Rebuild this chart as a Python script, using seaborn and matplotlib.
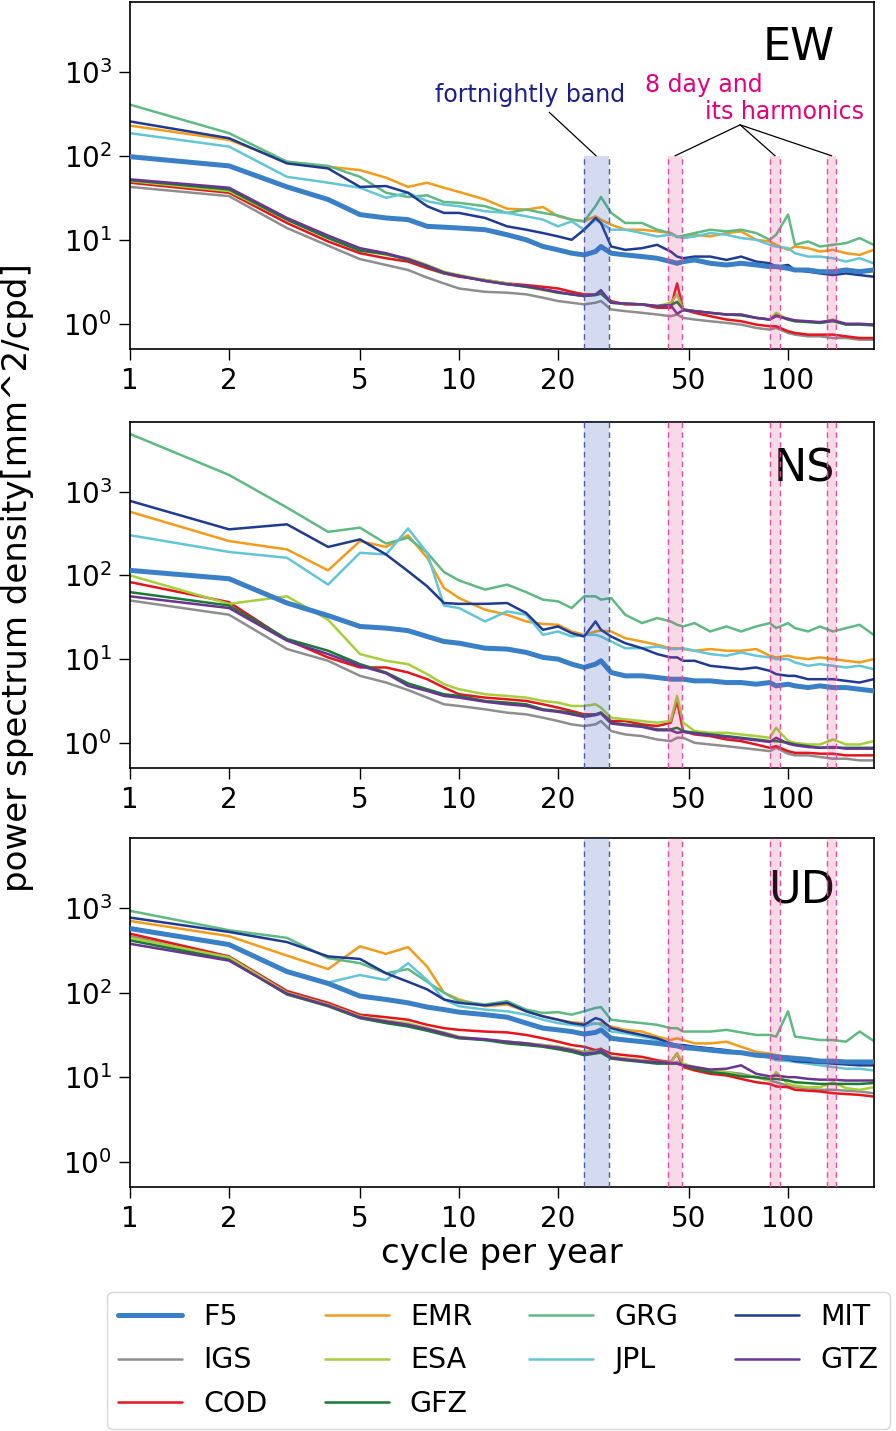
import pandas as pd
import seaborn as sns
import matplotlib.pyplot as plt
from matplotlib.ticker import NullLocator

freq = [1, 2, 3, 4, 5, 6, 7, 8, 9,
        10, 12, 14, 16, 18, 20, 22, 24, 26, 27,
        29, 32, 36, 40, 44, 46, 48, 52, 58, 65,
        72, 80, 88, 92, 100, 105, 115, 125, 137, 150,
        165, 182]

# ---- EW : log10 of power spectrum density [mm^2/cpd] ----
ew_f5 = [1.99, 1.88, 1.63, 1.48, 1.30, 1.26, 1.24, 1.16, 1.15,
         1.14, 1.12, 1.06, 1.00, 0.92, 0.88, 0.84, 0.82, 0.86, 0.92,
         0.84, 0.82, 0.80, 0.78, 0.74, 0.72, 0.74, 0.76, 0.72, 0.70,
         0.72, 0.70, 0.68, 0.68, 0.66, 0.64, 0.64, 0.62, 0.62, 0.64,
         0.62, 0.64]
ew_igs = [1.63, 1.52, 1.14, 0.93, 0.77, 0.70, 0.64, 0.55, 0.48,
          0.42, 0.38, 0.37, 0.35, 0.31, 0.27, 0.25, 0.23, 0.25, 0.27,
          0.17, 0.15, 0.13, 0.11, 0.09, 0.11, 0.07, 0.05, 0.03, 0.01,
          -0.01, -0.05, -0.07, -0.05, -0.11, -0.13, -0.15, -0.15, -0.17, -0.17,
          -0.19, -0.19]
ew_cod = [1.68, 1.56, 1.20, 0.98, 0.84, 0.78, 0.74, 0.66, 0.60,
          0.56, 0.52, 0.48, 0.46, 0.44, 0.42, 0.38, 0.35, 0.35, 0.36,
          0.27, 0.23, 0.23, 0.19, 0.19, 0.48, 0.17, 0.13, 0.09, 0.05,
          0.03, -0.01, -0.03, -0.03, -0.09, -0.11, -0.13, -0.13, -0.13, -0.15,
          -0.17, -0.17]
ew_emr = [2.36, 2.19, 1.93, 1.87, 1.83, 1.74, 1.63, 1.68, 1.62,
          1.57, 1.48, 1.37, 1.36, 1.39, 1.28, 1.24, 1.22, 1.28, 1.24,
          1.18, 1.12, 1.12, 1.10, 1.08, 1.04, 1.03, 1.06, 1.04, 1.08,
          1.10, 1.00, 0.98, 0.94, 0.88, 0.92, 0.90, 0.86, 0.88, 0.84,
          0.82, 0.88]
ew_esa = [1.70, 1.58, 1.24, 1.03, 0.88, 0.82, 0.78, 0.70, 0.62,
          0.58, 0.52, 0.48, 0.44, 0.40, 0.37, 0.35, 0.33, 0.35, 0.37,
          0.25, 0.24, 0.23, 0.21, 0.25, 0.35, 0.17, 0.15, 0.13, 0.11,
          0.11, 0.07, 0.05, 0.13, 0.05, 0.03, 0.03, 0.01, 0.05, -0.01,
          -0.01, -0.01]
ew_gfz = [1.71, 1.60, 1.24, 1.02, 0.87, 0.83, 0.76, 0.68, 0.60,
          0.57, 0.51, 0.47, 0.44, 0.41, 0.37, 0.35, 0.33, 0.34, 0.36,
          0.25, 0.24, 0.23, 0.21, 0.22, 0.26, 0.17, 0.15, 0.13, 0.11,
          0.10, 0.07, 0.05, 0.10, 0.05, 0.03, 0.02, 0.01, 0.03, -0.01,
          -0.01, -0.02]
ew_grg = [2.61, 2.27, 1.93, 1.88, 1.75, 1.56, 1.51, 1.53, 1.45,
          1.44, 1.40, 1.32, 1.36, 1.32, 1.29, 1.24, 1.22, 1.40, 1.51,
          1.32, 1.20, 1.20, 1.12, 1.08, 1.03, 1.05, 1.08, 1.12, 1.10,
          1.12, 1.08, 1.00, 1.06, 1.30, 0.94, 0.98, 0.92, 0.94, 0.96,
          1.02, 0.94]
ew_jpl = [2.27, 2.11, 1.75, 1.68, 1.62, 1.50, 1.56, 1.46, 1.42,
          1.40, 1.34, 1.32, 1.28, 1.24, 1.16, 1.22, 1.12, 1.24, 1.20,
          1.12, 1.12, 1.08, 1.04, 1.06, 1.04, 1.02, 1.04, 1.08, 1.06,
          1.02, 1.00, 0.94, 0.92, 0.90, 0.84, 0.80, 0.80, 0.78, 0.74,
          0.78, 0.72]
ew_mit = [2.41, 2.21, 1.91, 1.85, 1.63, 1.64, 1.56, 1.40, 1.32,
          1.32, 1.26, 1.16, 1.12, 1.08, 1.04, 1.00, 1.12, 1.26, 1.20,
          0.92, 0.88, 0.90, 0.94, 0.86, 0.80, 0.78, 0.80, 0.80, 0.76,
          0.80, 0.74, 0.72, 0.68, 0.70, 0.64, 0.62, 0.60, 0.58, 0.60,
          0.58, 0.56]
ew_gtz = [1.72, 1.62, 1.26, 1.05, 0.90, 0.84, 0.77, 0.69, 0.61,
          0.57, 0.51, 0.47, 0.45, 0.41, 0.38, 0.35, 0.33, 0.35, 0.40,
          0.25, 0.24, 0.23, 0.21, 0.22, 0.12, 0.16, 0.15, 0.13, 0.11,
          0.11, 0.07, 0.05, 0.09, 0.06, 0.04, 0.03, 0.02, 0.04, 0.00,
          0.00, -0.01]

# ---- NS ----
ns_f5 = [2.06, 1.96, 1.67, 1.52, 1.39, 1.37, 1.34, 1.27, 1.21,
         1.19, 1.13, 1.12, 1.08, 1.02, 1.00, 0.94, 0.90, 0.94, 0.98,
         0.84, 0.80, 0.80, 0.78, 0.76, 0.76, 0.76, 0.74, 0.74, 0.72,
         0.72, 0.70, 0.72, 0.68, 0.70, 0.68, 0.66, 0.68, 0.66, 0.66,
         0.64, 0.62]
ns_igs = [1.70, 1.53, 1.12, 0.98, 0.80, 0.72, 0.63, 0.54, 0.46,
          0.44, 0.40, 0.36, 0.34, 0.30, 0.26, 0.22, 0.20, 0.22, 0.26,
          0.14, 0.10, 0.08, 0.04, 0.02, 0.06, 0.06, 0.00, -0.02, -0.04,
          -0.06, -0.08, -0.10, -0.06, -0.13, -0.15, -0.15, -0.17, -0.19, -0.19,
          -0.21, -0.21]
ns_cod = [1.92, 1.68, 1.23, 1.02, 0.90, 0.90, 0.84, 0.76, 0.66,
          0.58, 0.54, 0.52, 0.50, 0.46, 0.42, 0.38, 0.34, 0.34, 0.36,
          0.26, 0.26, 0.22, 0.20, 0.24, 0.50, 0.14, 0.10, 0.08, 0.04,
          0.02, -0.02, -0.06, -0.04, -0.10, -0.12, -0.12, -0.13, -0.13, -0.15,
          -0.15, -0.15]
ns_emr = [2.76, 2.41, 2.31, 2.06, 2.41, 2.34, 2.48, 2.21, 1.85,
          1.73, 1.59, 1.53, 1.45, 1.42, 1.41, 1.33, 1.29, 1.33, 1.34,
          1.33, 1.25, 1.21, 1.17, 1.13, 1.13, 1.12, 1.10, 1.12, 1.10,
          1.10, 1.12, 1.04, 1.02, 1.04, 1.02, 1.00, 1.02, 1.00, 0.98,
          0.96, 1.00]
ns_esa = [2.00, 1.66, 1.75, 1.47, 1.06, 0.98, 0.94, 0.82, 0.70,
          0.64, 0.58, 0.56, 0.54, 0.50, 0.48, 0.44, 0.44, 0.46, 0.42,
          0.30, 0.28, 0.26, 0.24, 0.26, 0.56, 0.24, 0.14, 0.12, 0.12,
          0.10, 0.08, 0.06, 0.18, 0.02, 0.00, -0.02, -0.02, 0.04, -0.02,
          -0.02, 0.02]
ns_gfz = [1.80, 1.64, 1.24, 1.10, 0.94, 0.84, 0.71, 0.64, 0.58,
          0.56, 0.50, 0.48, 0.46, 0.40, 0.38, 0.36, 0.32, 0.34, 0.36,
          0.24, 0.22, 0.20, 0.16, 0.16, 0.18, 0.14, 0.12, 0.10, 0.08,
          0.06, 0.04, 0.02, 0.02, 0.00, -0.02, -0.04, -0.06, -0.06, -0.06,
          -0.06, -0.06]
ns_grg = [3.69, 3.20, 2.81, 2.52, 2.57, 2.38, 2.45, 2.27, 2.04,
          1.94, 1.83, 1.89, 1.80, 1.71, 1.69, 1.61, 1.75, 1.75, 1.71,
          1.73, 1.53, 1.43, 1.49, 1.45, 1.41, 1.39, 1.43, 1.33, 1.39,
          1.33, 1.39, 1.43, 1.37, 1.43, 1.37, 1.33, 1.39, 1.33, 1.37,
          1.41, 1.29]
ns_jpl = [2.48, 2.28, 2.21, 1.89, 2.27, 2.25, 2.56, 2.27, 1.64,
          1.61, 1.45, 1.57, 1.53, 1.29, 1.33, 1.27, 1.29, 1.29, 1.27,
          1.21, 1.13, 1.13, 1.15, 1.12, 1.12, 1.13, 1.10, 1.06, 1.04,
          1.08, 1.04, 1.02, 1.00, 1.00, 0.96, 0.92, 0.94, 0.92, 0.90,
          0.92, 0.88]
ns_mit = [2.89, 2.55, 2.61, 2.34, 2.43, 2.25, 2.05, 1.87, 1.67,
          1.66, 1.66, 1.67, 1.55, 1.35, 1.39, 1.31, 1.27, 1.45, 1.35,
          1.27, 1.19, 1.13, 1.06, 1.02, 1.02, 0.98, 0.98, 0.92, 0.90,
          0.88, 0.90, 0.86, 0.82, 0.80, 0.80, 0.76, 0.76, 0.76, 0.74,
          0.72, 0.76]
ns_gtz = [1.75, 1.61, 1.22, 1.06, 0.92, 0.83, 0.68, 0.62, 0.56,
          0.54, 0.49, 0.46, 0.44, 0.39, 0.37, 0.34, 0.31, 0.33, 0.35,
          0.23, 0.21, 0.19, 0.15, 0.15, 0.12, 0.13, 0.11, 0.09, 0.07,
          0.05, 0.03, 0.01, 0.06, -0.01, -0.03, -0.05, -0.06, -0.05, -0.07,
          -0.07, -0.07]

# ---- UD ----
ud_f5 = [2.76, 2.57, 2.25, 2.11, 1.96, 1.92, 1.88, 1.83, 1.80,
         1.77, 1.74, 1.71, 1.64, 1.58, 1.56, 1.54, 1.51, 1.53, 1.56,
         1.46, 1.44, 1.42, 1.40, 1.38, 1.37, 1.35, 1.34, 1.32, 1.30,
         1.29, 1.26, 1.25, 1.24, 1.23, 1.22, 1.21, 1.19, 1.19, 1.18,
         1.18, 1.18]
ud_igs = [2.67, 2.40, 1.98, 1.85, 1.70, 1.65, 1.61, 1.56, 1.52,
          1.47, 1.44, 1.42, 1.40, 1.38, 1.36, 1.33, 1.30, 1.31, 1.34,
          1.24, 1.22, 1.20, 1.18, 1.16, 1.18, 1.14, 1.12, 1.08, 1.06,
          1.04, 1.00, 0.96, 0.94, 0.90, 0.88, 0.87, 0.85, 0.85, 0.84,
          0.83, 0.81]
ud_cod = [2.70, 2.43, 2.02, 1.88, 1.74, 1.71, 1.68, 1.62, 1.58,
          1.56, 1.54, 1.53, 1.50, 1.46, 1.42, 1.38, 1.36, 1.32, 1.33,
          1.28, 1.26, 1.24, 1.20, 1.18, 1.28, 1.12, 1.08, 1.04, 1.02,
          0.98, 0.94, 0.92, 0.89, 0.88, 0.85, 0.84, 0.83, 0.81, 0.80,
          0.79, 0.77]
ud_emr = [2.85, 2.67, 2.44, 2.28, 2.55, 2.46, 2.54, 2.31, 2.00,
          1.92, 1.84, 1.86, 1.78, 1.72, 1.68, 1.65, 1.64, 1.63, 1.64,
          1.60, 1.56, 1.54, 1.48, 1.44, 1.46, 1.44, 1.40, 1.40, 1.42,
          1.36, 1.30, 1.28, 1.26, 1.24, 1.24, 1.22, 1.20, 1.18, 1.18,
          1.16, 1.16]
ud_esa = [2.65, 2.42, 2.00, 1.86, 1.72, 1.67, 1.64, 1.58, 1.53,
          1.48, 1.44, 1.42, 1.40, 1.38, 1.36, 1.33, 1.30, 1.30, 1.32,
          1.24, 1.22, 1.20, 1.18, 1.18, 1.28, 1.16, 1.12, 1.08, 1.06,
          1.02, 1.00, 0.96, 1.06, 0.92, 0.90, 0.88, 0.88, 0.94, 0.87,
          0.85, 0.88]
ud_gfz = [2.62, 2.39, 1.98, 1.84, 1.70, 1.64, 1.60, 1.55, 1.50,
          1.46, 1.44, 1.40, 1.38, 1.36, 1.33, 1.30, 1.26, 1.28, 1.29,
          1.22, 1.20, 1.18, 1.16, 1.16, 1.16, 1.14, 1.10, 1.06, 1.04,
          1.01, 1.00, 0.98, 0.98, 0.96, 0.94, 0.93, 0.92, 0.92, 0.92,
          0.92, 0.93]
ud_grg = [2.97, 2.74, 2.65, 2.41, 2.35, 2.23, 2.28, 2.13, 2.00,
          1.90, 1.86, 1.90, 1.80, 1.76, 1.77, 1.74, 1.78, 1.82, 1.83,
          1.68, 1.66, 1.64, 1.62, 1.58, 1.58, 1.54, 1.54, 1.54, 1.56,
          1.53, 1.50, 1.50, 1.48, 1.78, 1.48, 1.46, 1.44, 1.44, 1.42,
          1.54, 1.43]
ud_jpl = [2.77, 2.58, 2.26, 2.12, 2.21, 2.15, 2.35, 2.15, 1.92,
          1.84, 1.80, 1.78, 1.74, 1.68, 1.64, 1.62, 1.60, 1.64, 1.62,
          1.54, 1.52, 1.48, 1.44, 1.40, 1.38, 1.38, 1.35, 1.34, 1.31,
          1.29, 1.26, 1.23, 1.20, 1.19, 1.18, 1.16, 1.14, 1.12, 1.10,
          1.10, 1.08]
ud_mit = [2.89, 2.72, 2.60, 2.43, 2.40, 2.23, 2.13, 2.04, 1.92,
          1.88, 1.85, 1.88, 1.78, 1.72, 1.68, 1.64, 1.62, 1.70, 1.68,
          1.58, 1.54, 1.50, 1.46, 1.40, 1.38, 1.38, 1.36, 1.34, 1.32,
          1.29, 1.26, 1.24, 1.22, 1.21, 1.19, 1.18, 1.17, 1.16, 1.15,
          1.14, 1.14]
ud_gtz = [2.58, 2.38, 1.99, 1.85, 1.71, 1.66, 1.62, 1.57, 1.52,
          1.47, 1.45, 1.42, 1.40, 1.37, 1.35, 1.32, 1.28, 1.29, 1.32,
          1.23, 1.21, 1.19, 1.18, 1.17, 1.16, 1.14, 1.12, 1.09, 1.10,
          1.14, 1.04, 1.01, 1.02, 1.00, 1.00, 0.98, 0.97, 0.97, 0.96,
          0.96, 0.96]

centers = ["F5", "IGS", "COD", "EMR", "ESA", "GFZ", "GRG", "JPL", "MIT", "GTZ"]
colors = {"F5": "#3a80c6", "IGS": "#8e8e8e", "COD": "#e8141c", "EMR": "#f39c1a",
          "ESA": "#a6cf3a", "GFZ": "#1a7a34", "GRG": "#5fba82", "JPL": "#62c6d6",
          "MIT": "#1f3a93", "GTZ": "#6a3493"}

panels = [
    ("EW", [ew_f5, ew_igs, ew_cod, ew_emr, ew_esa, ew_gfz, ew_grg, ew_jpl, ew_mit, ew_gtz]),
    ("NS", [ns_f5, ns_igs, ns_cod, ns_emr, ns_esa, ns_gfz, ns_grg, ns_jpl, ns_mit, ns_gtz]),
    ("UD", [ud_f5, ud_igs, ud_cod, ud_emr, ud_esa, ud_gfz, ud_grg, ud_jpl, ud_mit, ud_gtz]),
]

# bands (cycle per year)
fortnight_band = (24.0, 28.5)
eightday_bands = [(43.1, 47.7), (88.2, 94.6), (131.4, 140.2)]

YLO, YHI = 0.5, 6800

sns.set_style("ticks")
plt.rcParams["font.family"] = ["DejaVu Sans"]
plt.rcParams["text.color"] = "black"
plt.rcParams["axes.labelcolor"] = "black"
plt.rcParams["xtick.color"] = "black"
plt.rcParams["ytick.color"] = "black"
plt.rcParams["axes.edgecolor"] = "black"
plt.rcParams["axes.linewidth"] = 1.2

fig = plt.figure(figsize=(8.96, 14.31), dpi=100)
W, H = 896, 1431
# axes boxes in pixels: (top, bottom)
boxes = [(2, 349), (422, 768), (838, 1187)]
label_y = {"EW": 0.833, "NS": 0.827, "UD": 0.814}

axes = []
for (name, series), (top, bot) in zip(panels, boxes):
    ax = fig.add_axes([130 / W, 1 - bot / H, 744 / W, (bot - top) / H])
    axes.append(ax)

    rows = []
    for c, vals in zip(centers, series):
        for f, v in zip(freq, vals):
            rows.append({"freq": f, "psd": 10 ** v, "center": c})
    df = pd.DataFrame(rows)

    for c in centers:
        sub = df[df["center"] == c]
        sns.lineplot(data=sub, x="freq", y="psd", ax=ax, color=colors[c],
                     lw=3.6 if c == "F5" else 1.8, label=c, estimator=None,
                     zorder=3 if c == "F5" else 2.5)
    if ax.get_legend() is not None:
        ax.get_legend().remove()

    ax.set_xscale("log")
    ax.set_yscale("log")
    ax.set_xlim(1, 182.5)
    ax.set_ylim(YLO, YHI)

    # shaded bands, drawn over the lines (EW: only up to 10^2)
    top_val = 100 if name == "EW" else YHI
    ax.fill_between(list(fortnight_band), YLO, top_val, color="#3f5fbf",
                    alpha=0.22, lw=0, zorder=5)
    ax.vlines(list(fortnight_band), YLO, top_val, colors="#4f5aad",
              linestyles=(0, (4, 3)), lw=1, zorder=6)
    for lo, hi in eightday_bands:
        ax.fill_between([lo, hi], YLO, top_val, color="#e23d8c",
                        alpha=0.2, lw=0, zorder=5)
        ax.vlines([lo, hi], YLO, top_val, colors="#e0509a",
                  linestyles=(0, (4, 3)), lw=1, zorder=6)

    ax.set_xticks([1, 2, 5, 10, 20, 50, 100])
    ax.set_xticklabels(["1", "2", "5", "10", "20", "50", "100"])
    ax.set_yticks([1, 10, 100, 1000])
    ax.xaxis.set_minor_locator(NullLocator())
    ax.yaxis.set_minor_locator(NullLocator())
    ax.tick_params(axis="both", which="major", labelsize=20, length=8,
                   width=1, direction="out", pad=5, colors="black")
    ax.set_xlabel("")
    ax.set_ylabel("")
    for s in ax.spines.values():
        s.set_visible(True)
        s.set_color("black")

    ax.text(0.9476, label_y[name], name, transform=ax.transAxes,
            ha="right", va="baseline", fontsize=32, color="black")

# annotations in the EW panel
ax1 = axes[0]
ax1.text(0.5376, 0.7127, "fortnightly band", transform=ax1.transAxes,
         ha="center", va="baseline", fontsize=17, color="#1b1f8a")
ax1.text(0.692, 0.7412, "8 day and", transform=ax1.transAxes,
         ha="left", va="baseline", fontsize=17, color="#e4007f")
ax1.text(0.7728, 0.6620, "its harmonics", transform=ax1.transAxes,
         ha="left", va="baseline", fontsize=17, color="#e4007f")
ax1.annotate("", xy=(26.1, 100), xytext=(18.8, 330),
             arrowprops=dict(arrowstyle="-", color="black", lw=0.9,
                             shrinkA=0, shrinkB=0))
for lo, hi in eightday_bands:
    ax1.annotate("", xy=((lo * hi) ** 0.5, 100), xytext=(71.5, 234),
                 arrowprops=dict(arrowstyle="-", color="black", lw=0.9,
                                 shrinkA=0, shrinkB=0))

fig.text(0.02, 0.596, "power spectrum density[mm^2/cpd]", rotation=90,
         ha="center", va="center", fontsize=24.5, color="black")
fig.text(502 / W, 1 - 1263 / H, "cycle per year", ha="center",
         va="baseline", fontsize=24.5, color="black")

handles, labels = axes[0].get_legend_handles_labels()
leg = fig.legend(handles, labels, loc="upper left",
                 bbox_to_anchor=(107 / W, 1 - 1292 / H), bbox_transform=fig.transFigure,
                 ncol=4, fontsize=20.5, handlelength=2.25, handletextpad=0.74,
                 columnspacing=2.0, labelspacing=0.53, borderpad=0.4,
                 borderaxespad=0, frameon=True)
for t in leg.get_texts():
    t.set_color("black")

fig.savefig("out.png", dpi=100)
